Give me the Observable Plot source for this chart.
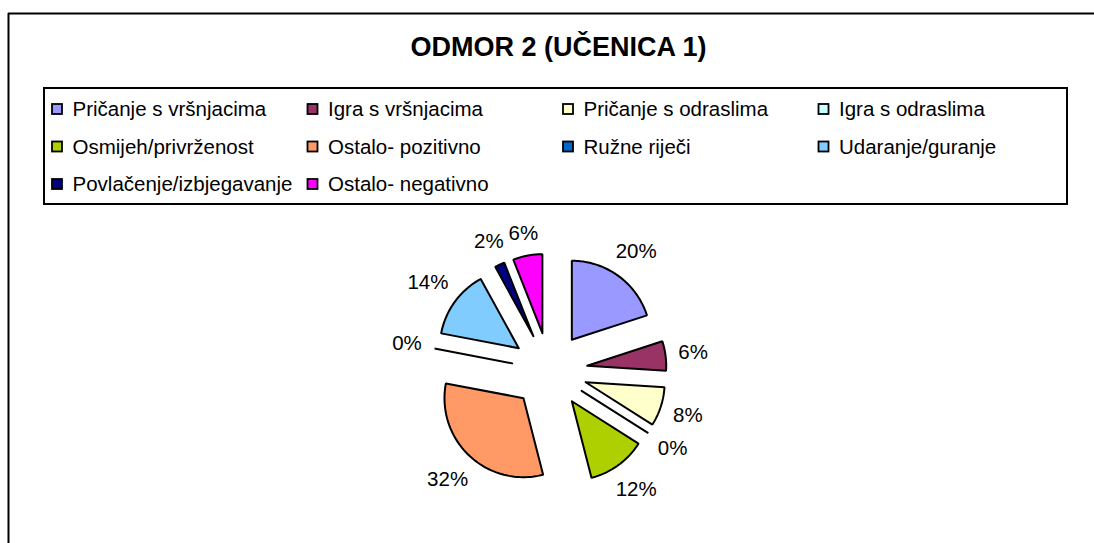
<!DOCTYPE html>
<html>
<head>
<meta charset="utf-8">
<script src="https://cdn.jsdelivr.net/npm/d3@7"></script>
<script src="https://cdn.jsdelivr.net/npm/@observablehq/plot@0.6"></script>
<style>
  html, body { margin: 0; padding: 0; background: #fff; }
  svg { display: block; font-family: "Liberation Sans", Arial, sans-serif; }
</style>
</head>
<body>
<div id="chart"></div>
<script>
// ---- data ----
const title = "ODMOR 2 (UČENICA 1)";
const categories = [
  "Pričanje s vršnjacima", "Igra s vršnjacima", "Pričanje s odraslima", "Igra s odraslima",
  "Osmijeh/privrženost", "Ostalo- pozitivno", "Ružne riječi", "Udaranje/guranje",
  "Povlačenje/izbjegavanje", "Ostalo- negativno"
];
const counts = [10, 3, 4, 0, 6, 16, 0, 7, 1, 3];
const colors = [
  "#9999FF", "#993366", "#FFFFCC", "#CCFFFF",
  "#AECF00", "#FF9966", "#0066CC", "#80CCFF",
  "#000080", "#FF00FF"
];

// ---- layout ----
const W = 1094, H = 543;
const cx = 549, cy = 370, R = 79, explode = 38;
const fontSize = 20.5;

const total = d3.sum(counts);
const arcs = d3.pie().sort(null).value(d => d)(counts);

// slice outlines (apex -> arc -> apex)
const slicePts = [];
const labelData = [];
arcs.forEach((a, i) => {
  const mid = (a.startAngle + a.endAngle) / 2;
  const ax = cx + explode * Math.sin(mid), ay = cy - explode * Math.cos(mid);
  slicePts.push({name: categories[i], x: ax, y: ay});
  const N = 60;
  for (let k = 0; k <= N; k++) {
    const t = a.startAngle + (a.endAngle - a.startAngle) * k / N;
    slicePts.push({name: categories[i], x: ax + R * Math.sin(t), y: ay - R * Math.cos(t)});
  }
  slicePts.push({name: categories[i], x: ax, y: ay});
  const txt = Math.round(counts[i] / total * 100) + "%";
  const w = d3.sum(txt, ch => ch === "%" ? 0.889 : 0.556) * fontSize;
  const h = 16;
  const sx = Math.sin(mid), sy = -Math.cos(mid);
  const ext = Math.abs(sx) * w / 2 + Math.abs(sy) * h / 2;
  const dist = explode + R + 12 + ext;
  labelData.push({text: txt, x: cx + dist * sx, y: cy + dist * sy});
});

// legend
const legX0 = 52, legColW = 255.5, legY0 = 109, legRowH = 37.5;
const legend = categories.map((c, i) => {
  const col = i % 4, row = Math.floor(i / 4);
  const x = legX0 + col * legColW, y = legY0 + row * legRowH;
  return {name: c, x1: x, x2: x + 10, y1: y - 5, y2: y + 5, tx: x + 20, ty: y};
});

const chart = Plot.plot({
  width: W, height: H,
  margin: 0,
  x: {domain: [0, W], range: [0, W], axis: null},
  y: {domain: [0, H], range: [0, H], axis: null},
  color: {domain: categories, range: colors},
  style: {fontFamily: '"Liberation Sans", Arial, sans-serif', background: "#fff"},
  marks: [
    // outer chart border (left and top visible)
    Plot.ruleX([8], {y1: 13, y2: H, stroke: "#000", strokeWidth: 2}),
    Plot.ruleY([13], {x1: 8, x2: W, stroke: "#000", strokeWidth: 2}),
    // title
    Plot.text([title], {x: 558, y: 47, text: d => d, fontSize: 27, fontWeight: "bold", fill: "#000"}),
    // legend box
    Plot.rect([0], {x1: 44, x2: 1067, y1: 88, y2: 204, fill: "none", stroke: "#000", strokeWidth: 2}),
    Plot.rect(legend, {x1: "x1", x2: "x2", y1: "y1", y2: "y2", fill: "name", stroke: "#000", strokeWidth: 1.8}),
    Plot.text(legend, {x: "tx", y: "ty", text: "name", textAnchor: "start", fontSize: fontSize, fill: "#000"}),
    // pie slices
    Plot.line(slicePts, {x: "x", y: "y", z: "name", fill: "name", stroke: "#000", strokeWidth: 2, curve: "linear", strokeLinejoin: "miter"}),
    // slice labels
    Plot.text(labelData, {x: "x", y: "y", text: "text", fontSize: fontSize, fill: "#000"})
  ]
});
document.getElementById("chart").appendChild(chart);
</script>
</body>
</html>
